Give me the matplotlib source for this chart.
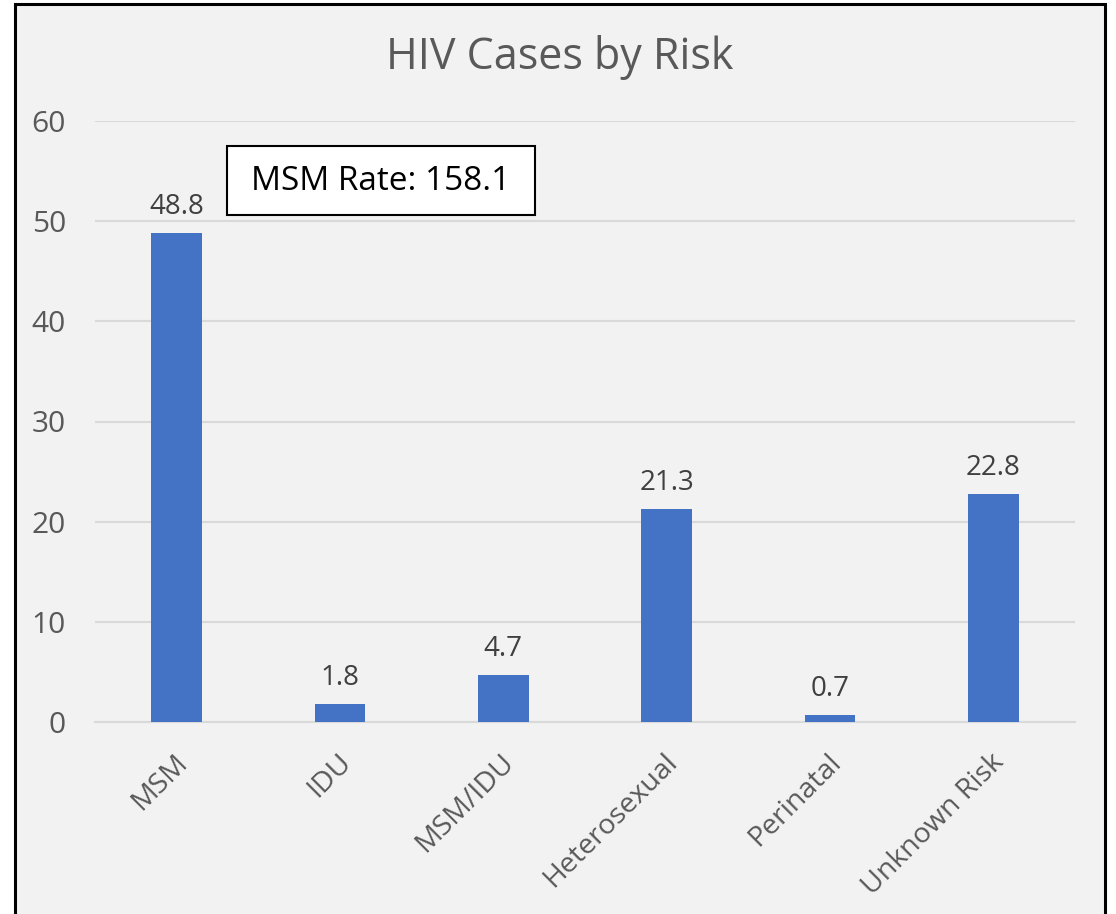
import matplotlib.pyplot as plt
from matplotlib.patches import Rectangle
from matplotlib.transforms import ScaledTranslation

plt.rcParams['font.family'] = ['Open Sans', 'DejaVu Sans']

# data
categories = ["MSM", "IDU", "MSM/IDU", "Heterosexual", "Perinatal", "Unknown Risk"]
values = [48.8, 1.8, 4.7, 21.3, 0.7, 22.8]
y_ticks = [0, 10, 20, 30, 40, 50, 60]
title = "HIV Cases by Risk"
note = "MSM Rate: 158.1"

fig = plt.figure(figsize=(11.16, 9.14), dpi=100, facecolor="white")

# chart area with black frame (bottom edge runs off the picture)
W, H = 1116.0, 914.0
frame = Rectangle((15 / W, -0.02), (1105 - 15) / W, (910 / H) + 0.02,
                  transform=fig.transFigure, facecolor="#f2f2f2",
                  edgecolor="black", linewidth=2.2, zorder=-5)
fig.patches.append(frame)

ax = fig.add_axes([95 / W, (H - 722) / H, (1075 - 95) / W, (722 - 121) / H])
ax.set_facecolor("#f2f2f2")

x = range(len(categories))
bars = ax.bar(x, values, width=0.31, color="#4472c4", zorder=3)

for xi, v in zip(x, values):
    ax.text(xi, v + 1.2, "%.1f" % v, ha="center", va="bottom",
            fontsize=20, color="#404040")

ax.set_xlim(-0.5, len(categories) - 0.5)
ax.set_ylim(0, 60)
ax.set_yticks(y_ticks)
ax.yaxis.grid(True, color="#d9d9d9", linewidth=1.5, zorder=0)
ax.set_axisbelow(True)
for s in ["top", "right", "left"]:
    ax.spines[s].set_visible(False)
ax.spines["bottom"].set_color("#d9d9d9")
ax.spines["bottom"].set_linewidth(1.5)
ax.tick_params(axis="both", length=0, colors="#595959")
ax.tick_params(axis="y", pad=21, labelsize=21.5)
ax.tick_params(axis="x", pad=19, labelsize=20.5)
ax.set_xticks(list(x))
ax.set_xticklabels(categories, rotation=45, ha="right", rotation_mode="anchor")
shift = ScaledTranslation(-3 / 100, 0, fig.dpi_scale_trans)
for lbl in ax.get_xticklabels():
    lbl.set_transform(lbl.get_transform() + shift)

fig.text(560 / W, 1 - 57 / H, title, ha="center", va="center",
         fontsize=31, color="#595959")

# note box
box = Rectangle((227 / W, 1 - 215 / H), (535 - 227) / W, (215 - 146) / H,
                transform=fig.transFigure, facecolor="white",
                edgecolor="black", linewidth=1.5, zorder=5)
fig.patches.append(box)
fig.text(381 / W, 1 - 181 / H, note, ha="center", va="center",
         fontsize=24, color="black", zorder=6)

fig.savefig("out.png", dpi=100)
